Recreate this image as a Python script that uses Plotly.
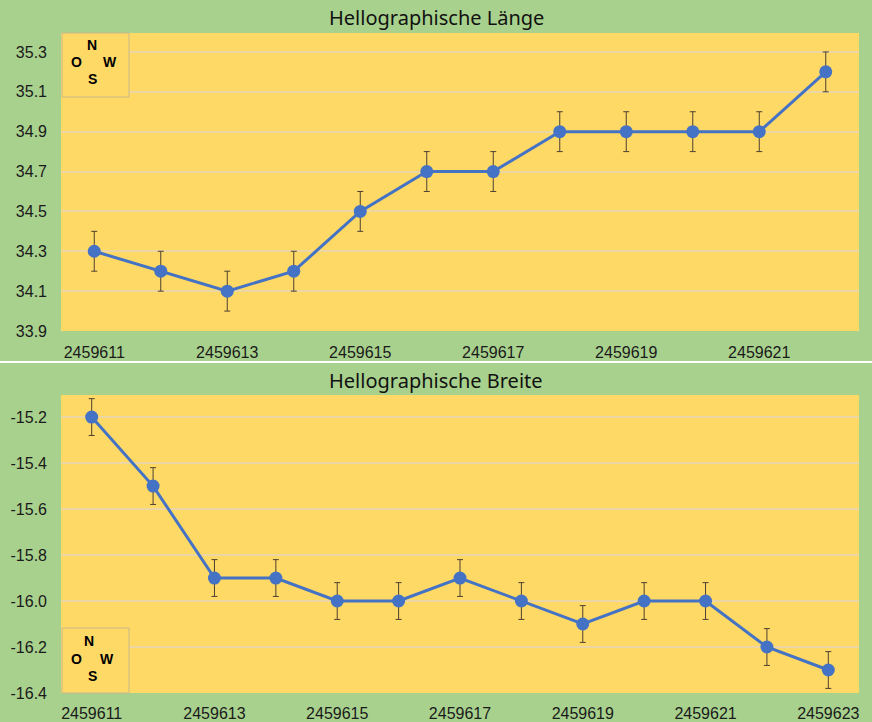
import plotly.graph_objects as go

# ---- data ----
days_top = list(range(2459611, 2459623))
laenge = [34.3, 34.2, 34.1, 34.2, 34.5, 34.7, 34.7, 34.9, 34.9, 34.9, 34.9, 35.2]
laenge_err = [0.1] * 12

days_bot = list(range(2459611, 2459624))
breite = [-15.2, -15.5, -15.9, -15.9, -16.0, -16.0, -15.9, -16.0, -16.1, -16.0, -16.0, -16.2, -16.3]
breite_err = [0.08] * 13

xticks_top = [2459611, 2459613, 2459615, 2459617, 2459619, 2459621]
xticks_bot = [2459611, 2459613, 2459615, 2459617, 2459619, 2459621, 2459623]
yticks_top = [33.9, 34.1, 34.3, 34.5, 34.7, 34.9, 35.1, 35.3]
yticks_bot = [-15.2, -15.4, -15.6, -15.8, -16.0, -16.2, -16.4]

W, H = 872, 722
BG = "#a9d18e"
PLOT = "#ffd966"
BLUE = "#4472c4"
GRID = "#ecd7a4"

def px(xp):
    return xp / W

def py(yp):
    return 1 - yp / H

fig = go.Figure()

err_style = dict(type="data", color="#4d4030", thickness=1, width=3)

fig.add_trace(go.Scatter(
    x=days_top, y=laenge, mode="lines+markers",
    line=dict(color=BLUE, width=3), marker=dict(color=BLUE, size=13),
    error_y=dict(array=laenge_err, **err_style),
    xaxis="x", yaxis="y", showlegend=False))

fig.add_trace(go.Scatter(
    x=days_bot, y=breite, mode="lines+markers",
    line=dict(color=BLUE, width=3), marker=dict(color=BLUE, size=13),
    error_y=dict(array=breite_err, **err_style),
    xaxis="x2", yaxis="y2", showlegend=False))

tickfont = dict(family="Liberation Sans, Arial", size=16, color="#1a1a1a")

fig.update_layout(
    width=W, height=H, autosize=False,
    margin=dict(l=0, r=0, t=0, b=0, pad=0, autoexpand=False),
    paper_bgcolor=BG, plot_bgcolor=PLOT,
    xaxis=dict(domain=[px(61), px(859)], anchor="y", automargin=False,
               range=[2459610.5, 2459622.5],
               tickvals=xticks_top, ticktext=[str(v) for v in xticks_top],
               showgrid=False, zeroline=False, showline=False,
               tickfont=tickfont, ticks="", ticklen=0, ticklabelstandoff=10),
    yaxis=dict(domain=[py(331), py(33)], anchor="x", automargin=False,
               range=[33.9, 35.395],
               tickvals=yticks_top, ticktext=[f"{v:.1f}" for v in yticks_top],
               showgrid=True, gridcolor=GRID, gridwidth=1.5, zeroline=False,
               tickfont=tickfont, ticks="", ticklen=0, ticklabelstandoff=13),
    xaxis2=dict(domain=[px(61), px(859)], anchor="y2", automargin=False,
                range=[2459610.5, 2459623.5],
                tickvals=xticks_bot, ticktext=[str(v) for v in xticks_bot],
                showgrid=False, zeroline=False, showline=False,
                tickfont=tickfont, ticks="", ticklen=0, ticklabelstandoff=9),
    yaxis2=dict(domain=[py(693), py(395)], anchor="x2", automargin=False,
                range=[-16.4, -15.104],
                tickvals=yticks_bot, ticktext=[f"{v:.1f}" for v in yticks_bot],
                showgrid=True, gridcolor=GRID, gridwidth=1.5, zeroline=False,
                tickfont=tickfont, ticks="", ticklen=0, ticklabelstandoff=13),
)

titlefont = dict(family="Noto Sans, Open Sans", size=20, color="#111111")
fig.add_annotation(text="Hellographische Länge", x=px(436), y=py(18), xref="paper", yref="paper",
                   showarrow=False, font=titlefont, xanchor="center", yanchor="middle")
fig.add_annotation(text="Hellographische Breite", x=px(436), y=py(381), xref="paper", yref="paper",
                   showarrow=False, font=titlefont, xanchor="center", yanchor="middle")

# separator line
fig.add_shape(type="line", xref="paper", yref="paper", x0=0, x1=1, y0=py(362), y1=py(362),
              line=dict(color="white", width=2))

# compass boxes
cfont = dict(family="Liberation Sans, Arial", size=14, color="black")
for (x0, y0, x1, y1, n, o, w, s) in [
    (62, 33, 129, 97, (92, 45), (76, 62), (110, 62), (92, 79)),
    (62, 628, 129, 693, (89, 641), (76, 659), (107, 659), (92, 676)),
]:
    fig.add_shape(type="rect", xref="paper", yref="paper",
                  x0=px(x0), x1=px(x1), y0=py(y1), y1=py(y0),
                  fillcolor=PLOT, line=dict(color="#c8b88a", width=1), layer="above")
    for label, (lx, ly) in zip(["N", "O", "W", "S"], [n, o, w, s]):
        fig.add_annotation(text=f"<b>{label}</b>", x=px(lx), y=py(ly), xref="paper", yref="paper",
                           showarrow=False, font=cfont, xanchor="center", yanchor="middle")

fig.write_html("out.html", config={"displayModeBar": False},
               post_script="document.body.style.margin='0';")
